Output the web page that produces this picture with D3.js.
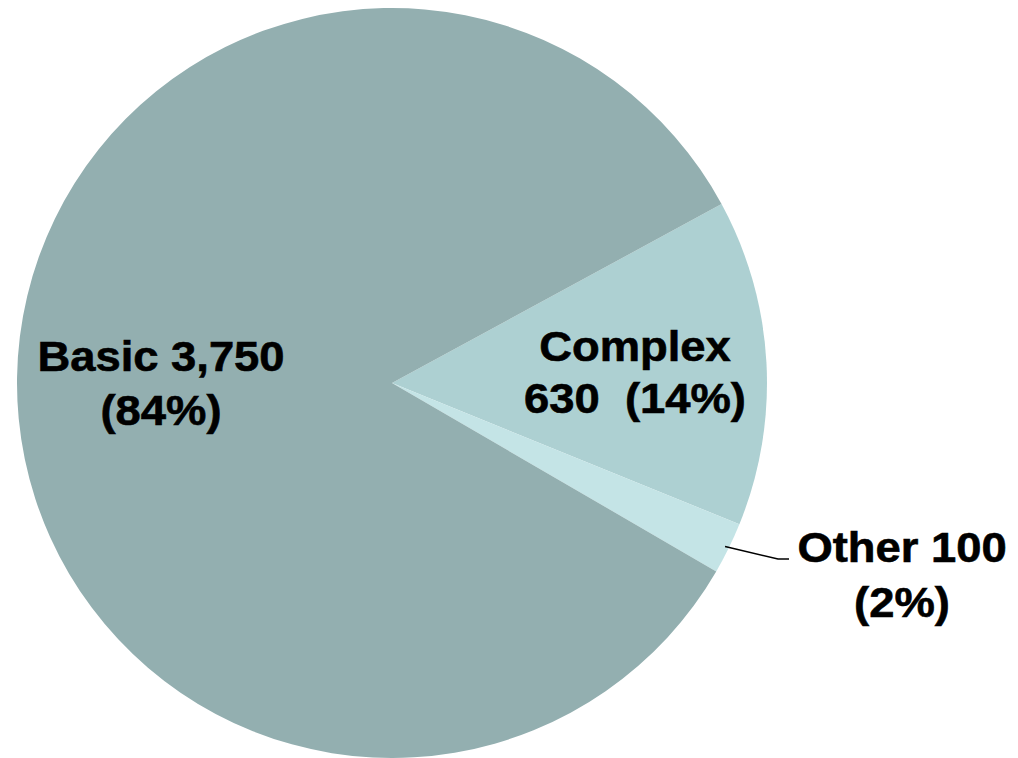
<!DOCTYPE html>
<html>
<head>
<meta charset="utf-8">
<script src="https://cdn.jsdelivr.net/npm/d3@7"></script>
<style>
html,body{margin:0;padding:0;background:#fff;}
svg{display:block;}
text{font-family:"Liberation Sans",Arial,sans-serif;font-weight:bold;fill:#000;}
</style>
</head>
<body>
<svg id="chart" width="1018" height="758"></svg>
<script>
const categories = ["Complex", "Other", "Basic"];
const values = [630, 100, 3750];
const percentLabels = ["14%", "2%", "84%"];
const colors = ["#add0d2", "#c4e4e6", "#93afb0"];

const W = 1018, H = 758;
const cx = 392, cy = 383, R = 375;
const startDeg = 61.5;

const svg = d3.select("#chart");
const g = svg.append("g").attr("transform", `translate(${cx},${cy})`);

const pie = d3.pie().sort(null).value(d => d.value)
  .startAngle(startDeg * Math.PI / 180)
  .endAngle(startDeg * Math.PI / 180 + 2 * Math.PI);
const data = categories.map((c, i) => ({ name: c, value: values[i], pct: percentLabels[i], color: colors[i] }));
const arcs = pie(data);
const arc = d3.arc().innerRadius(0).outerRadius(R);

g.selectAll("path.slice").data(arcs).join("path")
  .attr("class", "slice")
  .attr("d", arc)
  .attr("fill", d => d.data.color)
  .attr("stroke", "none");

// leader line for "Other"
const other = arcs[1];
const midA = (other.startAngle + other.endAngle) / 2;
const p0 = [Math.sin(midA) * (R - 4), -Math.cos(midA) * (R - 4)];
svg.append("polyline")
  .attr("points", [[cx + p0[0], cy + p0[1]], [778, 559], [789, 559]].map(p => p.join(",")).join(" "))
  .attr("fill", "none").attr("stroke", "#000").attr("stroke-width", 1.5);

function label(x, lines) {
  lines.forEach(l => {
    svg.append("text")
      .attr("transform", `translate(${x},${l.y}) scale(1.08,1)`)
      .attr("text-anchor", "middle")
      .attr("font-size", 42)
      .attr("stroke", "#000")
      .attr("stroke-width", 0.6)
      .attr("xml:space", "preserve")
      .style("white-space", "pre")
      .text(l.t);
  });
}
const fmt = d3.format(",");
label(161, [{ t: `${categories[2]} ${fmt(values[2])}`, y: 371 }, { t: `(${percentLabels[2]})`, y: 425 }]);
label(635, [{ t: `${categories[0]}`, y: 361 }, { t: `${values[0]}  (${percentLabels[0]})`, y: 413 }]);
label(902, [{ t: `${categories[1]} ${values[1]}`, y: 562 }, { t: `(${percentLabels[1]})`, y: 617 }]);
</script>
</body>
</html>
